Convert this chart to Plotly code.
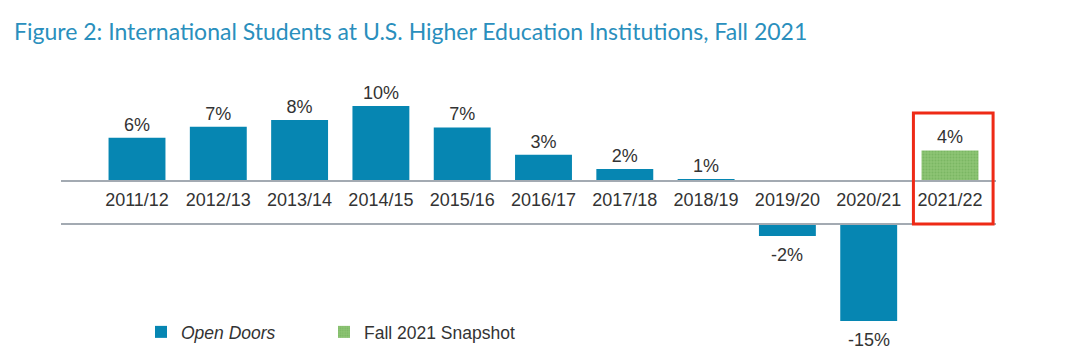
import plotly.graph_objects as go

# ---- data ----
categories = ["2011/12", "2012/13", "2013/14", "2014/15", "2015/16", "2016/17",
              "2017/18", "2018/19", "2019/20", "2020/21", "2021/22"]
open_doors = [5.7, 7.2, 8.1, 10.0, 7.1, 3.4, 1.5, 0.1, -1.8, -15.0, None]
open_doors_labels = ["6%", "7%", "8%", "10%", "7%", "3%", "2%", "1%", "-2%", "-15%", ""]
snapshot = [None, None, None, None, None, None, None, None, None, None, 4.0]
snapshot_labels = ["", "", "", "", "", "", "", "", "", "", "4%"]
highlight = "2021/22"
title_text = "Figure 2: International Students at U.S. Higher Education Institutions, Fall 2021"

# ---- styles ----
OFF = 8  # default page body margin
W, H = 1080 - 2 * OFF, 360 - 2 * OFF
BLUE = "#0686b2"
GREEN = "#8cc474"
TXT = "#333333"
AXLINE = "#a3aab2"
FONT = "Liberation Sans, Arial, sans-serif"
FS = 18

def px_x(p):
    return (p - OFF) / W

def px_y(p):
    return (H - (p - OFF)) / H

pos_vals = [v if (v is not None and v >= 0) else None for v in open_doors]
pos_text = [t if (v is not None and v >= 0) else "" for v, t in zip(open_doors, open_doors_labels)]
neg_vals = [v if (v is not None and v < 0) else None for v in open_doors]

fig = go.Figure()
fig.add_trace(go.Bar(
    x=categories, y=pos_vals, text=pos_text, textposition="outside",
    marker=dict(color=BLUE, line=dict(width=0)), width=0.7,
    name="<i>Open Doors</i>", legendgroup="od", showlegend=True, legend="legend",
    textfont=dict(family=FONT, size=FS, color=TXT), cliponaxis=False,
    xaxis="x", yaxis="y"))
fig.add_trace(go.Bar(
    x=categories, y=snapshot, text=snapshot_labels, textposition="outside",
    marker=dict(color=GREEN, line=dict(width=0),
                pattern=dict(shape=".", fgcolor="#6aa851", bgcolor=GREEN, size=3, solidity=0.35)),
    width=0.7, name="Fall 2021 Snapshot", showlegend=True, legend="legend2",
    textfont=dict(family=FONT, size=FS, color=TXT), cliponaxis=False,
    xaxis="x", yaxis="y"))
fig.add_trace(go.Bar(
    x=categories, y=neg_vals,
    marker=dict(color=BLUE, line=dict(width=0)), width=0.7,
    name="Open Doors", legendgroup="od", showlegend=False,
    xaxis="x2", yaxis="y2"))

# negative value labels below bars
for c, v, t in zip(categories, open_doors, open_doors_labels):
    if v is not None and v < 0:
        fig.add_annotation(x=c, y=v, xref="x2", yref="y2", text=t, showarrow=False,
                           yshift=-19, yanchor="middle",
                           font=dict(family=FONT, size=FS, color=TXT))

# layout geometry (pixels in the page)
x_left_px, x_right_px = 61, 996
cat_step = 81.3
first_center = 137
xr = [-(first_center - x_left_px) / cat_step,
      (x_right_px - first_center) / cat_step]

top_zero, top_px = 180, 60
pos_scale = 7.4
bot_zero, bot_px = 224.5, 345
neg_scale = 6.43

legend_common = dict(orientation="h", yanchor="middle", xanchor="left",
                     font=dict(family=FONT, size=17.5, color=TXT),
                     bgcolor="rgba(0,0,0,0)")

fig.update_layout(
    width=W, height=H, margin=dict(l=0, r=0, t=0, b=0),
    paper_bgcolor="white", plot_bgcolor="white",
    barmode="overlay",
    font=dict(family=FONT, size=FS, color=TXT),
    xaxis=dict(domain=[px_x(x_left_px), px_x(x_right_px)], range=xr, anchor="y",
               showline=True, linecolor=AXLINE, linewidth=1.5, showgrid=False,
               ticks="outside", ticklen=3, tickcolor="rgba(0,0,0,0)",
               tickfont=dict(family=FONT, size=FS, color=TXT), zeroline=False,
               fixedrange=True),
    yaxis=dict(domain=[px_y(top_zero), px_y(top_px)], range=[0, (top_zero - top_px) / pos_scale],
               visible=False, showgrid=False, zeroline=False),
    xaxis2=dict(domain=[px_x(x_left_px), px_x(x_right_px)], range=xr, anchor="y2",
                side="top", showline=True, linecolor=AXLINE, linewidth=1.5,
                showticklabels=False, ticks="", showgrid=False, zeroline=False),
    yaxis2=dict(domain=[px_y(bot_px), px_y(bot_zero)], range=[-(bot_px - bot_zero) / neg_scale, 0],
                visible=False, showgrid=False, zeroline=False),
    showlegend=True,
    legend=dict(x=px_x(141), y=px_y(332), **legend_common),
    legend2=dict(x=px_x(324), y=px_y(332), **legend_common),
    annotations=list(fig.layout.annotations) + [
        dict(text=title_text, x=px_x(12), y=px_y(31), xref="paper", yref="paper",
             xanchor="left", yanchor="middle", showarrow=False,
             font=dict(family="Lato, Noto Sans, sans-serif", size=23, color="#2a8fbd"))
    ],
)

# red highlight box around the snapshot category
hi = categories.index(highlight)
fig.add_shape(type="rect", xref="x", yref="paper",
              x0=hi - 0.45, x1=hi + 0.53, y0=px_y(224), y1=px_y(113),
              line=dict(color="#ee2a16", width=3), fillcolor="rgba(0,0,0,0)", layer="above")

fig.write_html("out.html")
